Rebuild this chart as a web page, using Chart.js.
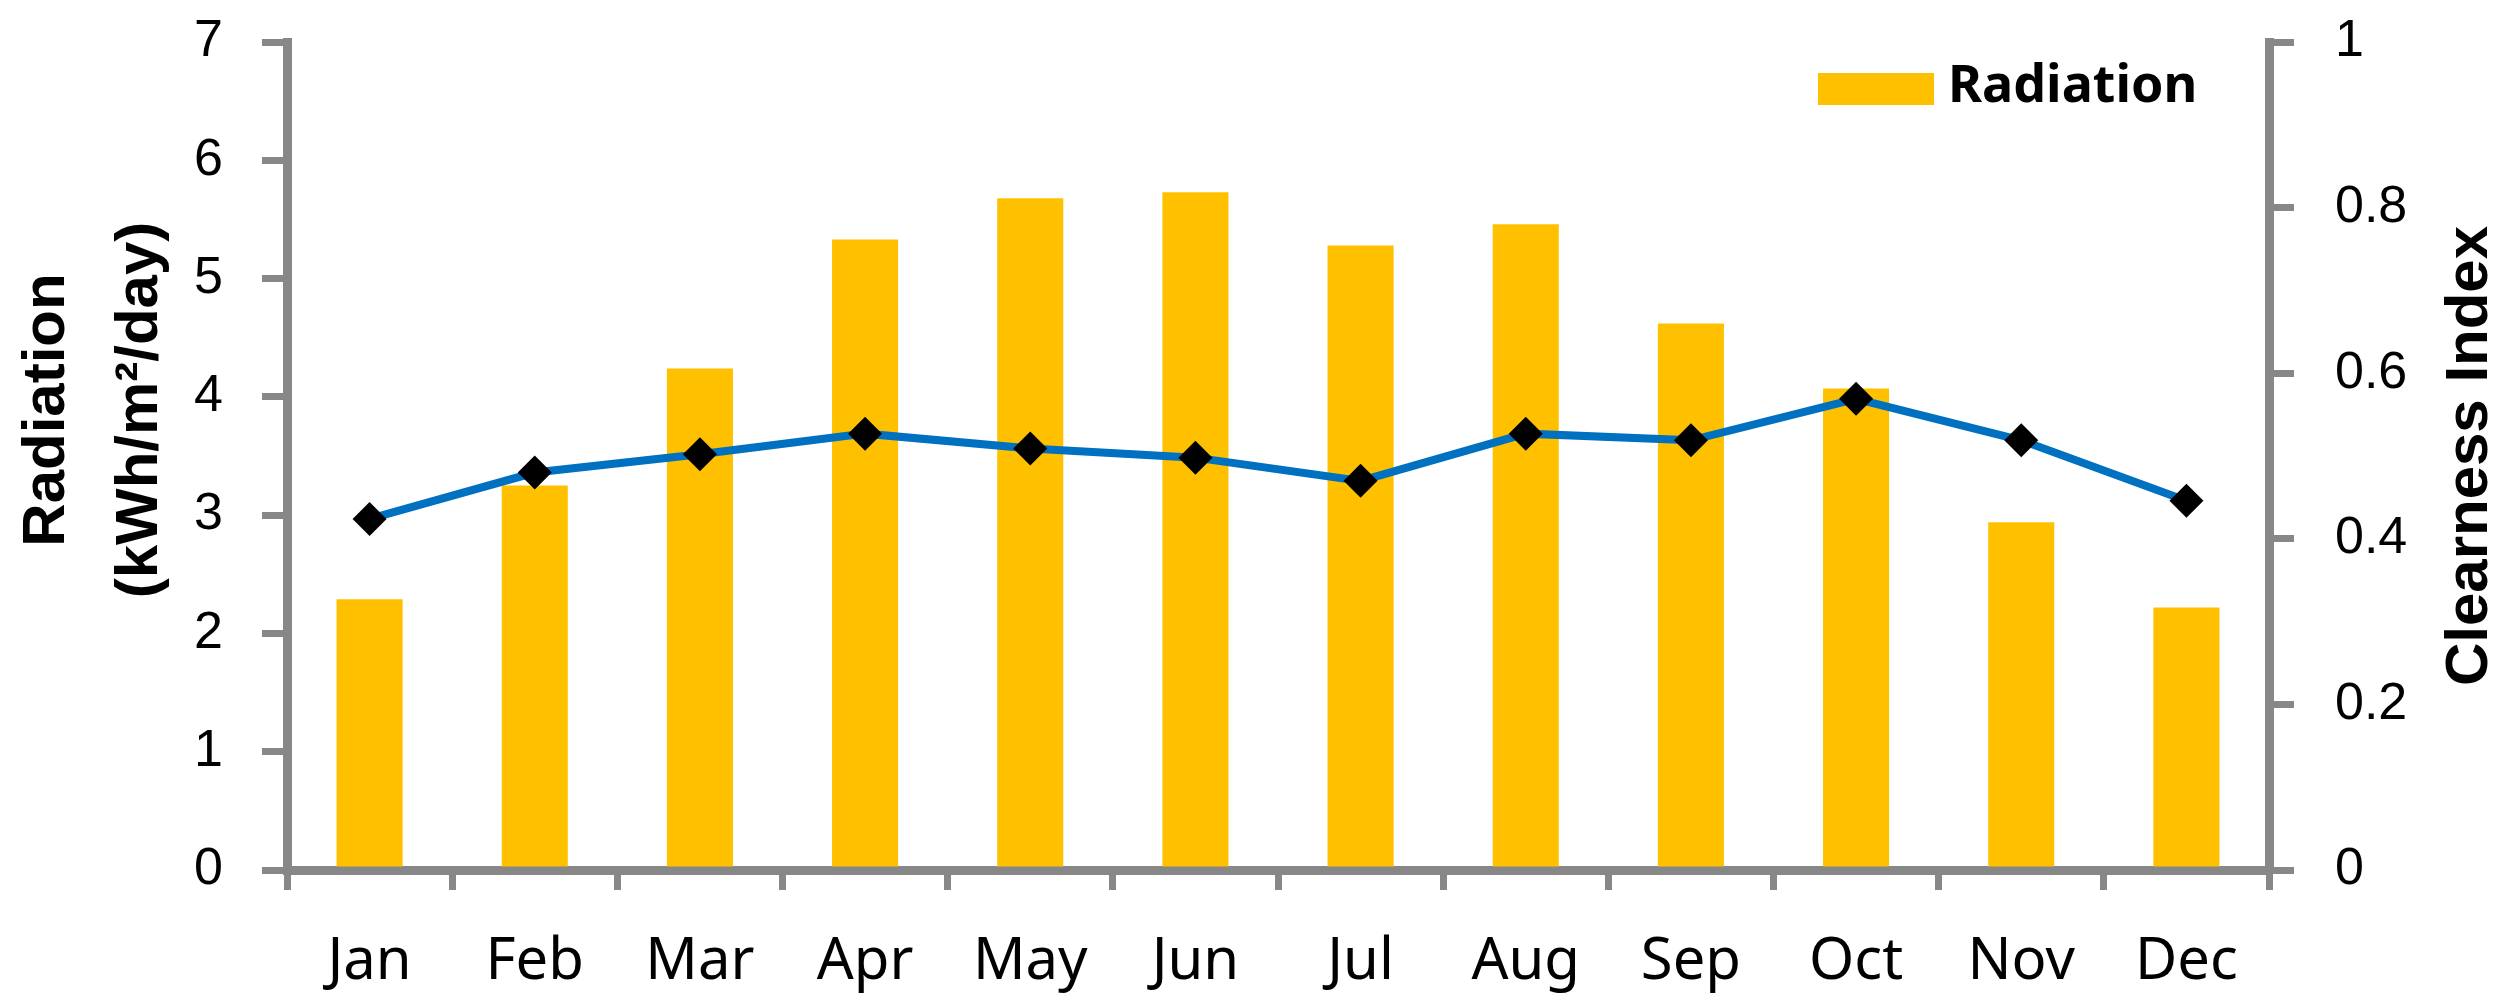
<!DOCTYPE html>
<html>
<head>
<meta charset="utf-8">
<script src="https://cdn.jsdelivr.net/npm/chart.js@4.4.0/dist/chart.umd.min.js"></script>
<style>
  html, body { margin: 0; padding: 0; background: #fff; }
  #wrap { width: 2502px; height: 1003px; }
</style>
</head>
<body>
<div id="wrap"><canvas id="radChart"></canvas></div>
<script>
const months = ["Jan", "Feb", "Mar", "Apr", "May", "Jun", "Jul", "Aug", "Sep", "Oct", "Nov", "Dec"];
const radiation = [2.29, 3.25, 4.24, 5.33, 5.68, 5.73, 5.28, 5.46, 4.62, 4.07, 2.94, 2.22];
const clearness = [0.424, 0.48, 0.502, 0.527, 0.509, 0.498, 0.47, 0.527, 0.519, 0.569, 0.519, 0.446];
const radiationTicks = [0, 7, 1]; // min, max, step
const clearnessTicks = [0, 1, 0.2];
const leftTitle = ["Radiation", "(kWh/m²/day)"];
const rightTitle = "Clearness Index";

const axisGrey = "#878787";
const titleFont = "bold 60px 'Liberation Sans'";

// axis titles (right one reads bottom-to-top like the left) + legend box
const extras = {
  id: "extras",
  afterDraw(chart) {
    const c = chart.ctx;
    const area = chart.chartArea;
    c.save();
    c.fillStyle = "#000";
    c.font = titleFont;
    c.textAlign = "center";
    c.textBaseline = "middle";
    const midL = (area.top + area.bottom) / 2 - 46;
    leftTitle.forEach((line, i) => {
      c.save();
      c.translate(47 + i * 93, midL);
      c.rotate(-Math.PI / 2);
      c.fillText(line, 0, 0);
      c.restore();
    });
    c.save();
    c.translate(2470, (area.top + area.bottom) / 2);
    c.rotate(-Math.PI / 2);
    c.fillText(rightTitle, 0, 0);
    c.restore();

    // legend
    const ds = chart.data.datasets.find((d) => d.label === "Radiation");
    c.fillStyle = ds.backgroundColor;
    c.fillRect(1818, 73, 116, 32);
    c.fillStyle = "#000";
    c.textAlign = "left";
    c.font = "bold 52px 'Noto Sans'";
    c.fillText(ds.label, 1948, 87);
    c.restore();
  },
};

// keep the vertical scales from reserving extra room above/below the plot
function fixVertical(width) {
  return (s) => {
    s.width = width;
    s.paddingTop = 0;
    s.paddingBottom = 0;
  };
}

const ctx = document.getElementById("radChart").getContext("2d");
const radChart = new Chart(ctx, {
  type: "bar",
  data: {
    labels: months,
    datasets: [
      {
        type: "line",
        label: "Clearness Index",
        data: clearness,
        yAxisID: "y1",
        borderColor: "#0070C0",
        borderWidth: 8,
        pointStyle: "rectRot",
        pointRadius: 17,
        pointBackgroundColor: "#000000",
        pointBorderColor: "#000000",
        pointBorderWidth: 0,
        tension: 0,
        order: 1,
      },
      {
        type: "bar",
        label: "Radiation",
        data: radiation,
        yAxisID: "y",
        backgroundColor: "#FFC000",
        barPercentage: 0.5,
        categoryPercentage: 0.8,
        order: 2,
      },
    ],
  },
  options: {
    responsive: true,
    maintainAspectRatio: false,
    animation: false,
    layout: { padding: { top: 42, left: 0, right: 0, bottom: 0 } },
    scales: {
      x: {
        offset: true,
        grid: { offset: true, drawOnChartArea: false, color: axisGrey, tickLength: 20, lineWidth: 7 },
        border: { color: axisGrey, width: 9 },
        ticks: { color: "#000", font: { family: "Noto Sans", size: 58 }, padding: 38 },
        afterFit: (s) => { s.height = 133; },
      },
      y: {
        position: "left",
        min: radiationTicks[0],
        max: radiationTicks[1],
        ticks: { stepSize: radiationTicks[2], padding: 39, color: "#000", font: { family: "Liberation Sans", size: 52 } },
        grid: { drawOnChartArea: false, color: axisGrey, tickLength: 25, lineWidth: 7 },
        border: { color: axisGrey, width: 9 },
        afterFit: fixVertical(287),
      },
      y1: {
        position: "right",
        min: clearnessTicks[0],
        max: clearnessTicks[1],
        ticks: {
          stepSize: clearnessTicks[2],
          padding: 41,
          color: "#000",
          font: { family: "Liberation Sans", size: 52 },
          callback: (v) => String(Number(v.toFixed(2))),
        },
        grid: { drawOnChartArea: false, color: axisGrey, tickLength: 25, lineWidth: 7 },
        border: { color: axisGrey, width: 9 },
        afterFit: fixVertical(233),
      },
    },
    plugins: {
      legend: { display: false },
      tooltip: { enabled: false },
    },
  },
  plugins: [extras],
});
</script>
</body>
</html>
